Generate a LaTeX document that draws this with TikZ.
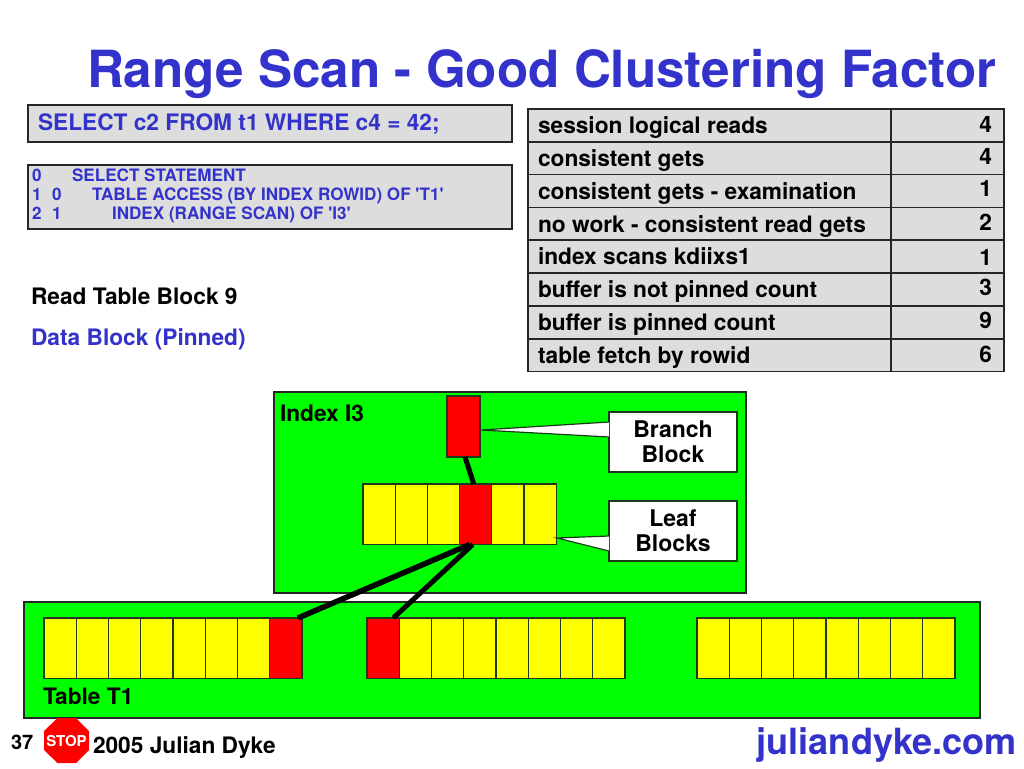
\documentclass[tikz,border=0pt]{standalone}
\usepackage{fontspec}
\setmainfont{TeX Gyre Heros}
\definecolor{tblue}{HTML}{3333CC}
\definecolor{pgrey}{HTML}{DDDDDD}
\definecolor{gr}{HTML}{00FF00}
\definecolor{yl}{HTML}{FFFF00}
\definecolor{rd}{HTML}{FF0000}
\definecolor{ln}{HTML}{1A3A1A}
\tikzset{
 x=1pt,y=-1pt,
 panel/.style={draw=black!85,line width=1.3pt,fill=pgrey},
 area/.style={draw=black!85,line width=1.3pt,fill=gr},
 yb/.style={draw=ln,line width=1.2pt,fill=yl,minimum width=32.25pt,minimum height=60.5pt,inner sep=0pt,outer sep=0pt,anchor=north west},
 rb/.style={yb,fill=rd},
 call/.style={draw=ln,line width=1.2pt,fill=white,minimum width=128pt,minimum height=60pt,inner sep=0pt,outer sep=0pt,anchor=north west,align=center,font=\fontsize{23}{25}\selectfont\bfseries},
 txt/.style={inner sep=0pt,outer sep=0pt,anchor=base west,font=\fontsize{22.7}{24}\selectfont\bfseries},
 cell/.style={draw=black!85,line width=1.3pt,fill=pgrey},
 wire/.style={draw=black,line width=5pt},
}
\begin{document}
\begin{tikzpicture}
\useasboundingbox (0,0) rectangle (1024,768);
\fill[white] (0,0) rectangle (1024,768);
\node[txt,text=tblue,font=\fontsize{51.2}{52}\selectfont\bfseries] (title) at (87,87) {Range Scan - Good Clustering Factor};
% SQL
\draw[panel] (28,105) rectangle (512,142);
\node[txt,text=tblue,font=\fontsize{22.7}{24}\selectfont\bfseries] (sql) at (38,130) {SELECT c2 FROM t1 WHERE c4 = 42;};
\draw[panel] (28,165) rectangle (512,229);
\tikzset{pl/.style={txt,text=tblue,font=\fontsize{17.1}{19}\selectfont\bfseries}}
\node[pl] (p0) at (32,181) {0};
\node[pl] (p0b) at (72,181) {SELECT STATEMENT};
\node[pl] (p1) at (32,200) {1};
\node[pl] (p1a) at (52,200) {0};
\node[pl] (p1b) at (92,200) {TABLE ACCESS (BY INDEX ROWID) OF \textquotesingle T1\textquotesingle};
\node[pl] (p2) at (32,219) {2};
\node[pl] (p2a) at (52,219) {1};
\node[pl] (p2b) at (112,219) {INDEX (RANGE SCAN) OF \textquotesingle I3\textquotesingle};
% stats
\foreach \ya/\yb/\lab/\val/\ty/\vy in {109/142/session logical reads/4/133/132, 142/174.5/consistent gets/4/166/164, 174.5/207.5/consistent gets - examination/1/199/196, 207.5/240/no work - consistent read gets/2/232/230, 240/273/index scans kdiixs1/1/264/265, 273/306/buffer is not pinned count/3/297/295, 306/339/buffer is pinned count/9/330/328, 339/371.5/table fetch by rowid/6/363/362}{
 \draw[cell] (528,\ya) rectangle (891,\yb);
 \draw[cell] (891,\ya) rectangle (1004,\yb);
 \node[txt] at (538,\ty) {\lab};
 \node[txt,anchor=base east] at (992,\vy) {\val};
}
\node[txt] (rt) at (31,304) {Read Table Block 9};
\node[txt,text=tblue] (db) at (31,345) {Data Block (Pinned)};
% index
\draw[area] (274,392) rectangle (746,593);
\node[txt] (idx) at (280,421) {Index I3};
% table
\draw[area] (24,602) rectangle (980,718);
\node[txt] (tb) at (43,704) {Table T1};
% blocks
\node[rb,minimum width=33pt,minimum height=61pt] (br) at (447,396) {};
\foreach \i/\s in {0/yb,1/yb,2/yb,3/rb,4/yb,5/yb}
  \node[\s] (l\i) at ({363+\i*32.2},484) {};
\foreach \i/\s in {0/yb,1/yb,2/yb,3/yb,4/yb,5/yb,6/yb,7/rb}
  \node[\s] (a\i) at ({44+\i*32.25},618) {};
\foreach \i/\s in {0/rb,1/yb,2/yb,3/yb,4/yb,5/yb,6/yb,7/yb}
  \node[\s] (b\i) at ({367+\i*32.25},618) {};
\foreach \i in {0,...,7}
  \node[yb] (c\i) at ({697+\i*32.25},618) {};
% wires
\draw[wire] ([xshift=1.5pt]br.south) -- ([xshift=-2pt]l3.north);
\draw[wire,line width=5.5pt] ([xshift=-6pt]l3.south) -- ([xshift=-4pt]a7.north east);
\draw[wire] ([xshift=-3pt]l3.south) -- ([xshift=-6pt]b0.north east);
% callouts
\node[call] (cb) at (609,412) {Branch\\Block};
\node[call] (cl) at (609,501) {Leaf\\Blocks};
\coordinate (tb1) at (609,422);
\coordinate (tb2) at (609,437);
\coordinate (tl1) at (609,536);
\coordinate (tl2) at (609,551);
\coordinate (pb) at (481,430);
\coordinate (pl) at (557,538);
\fill[white] (tb1) -- (pb) -- (tb2) -- cycle;
\draw[ln,line width=1.2pt] (tb1) -- (pb) -- (tb2);
\fill[white] (tl1) -- (pl) -- (tl2) -- cycle;
\draw[ln,line width=1.2pt] (tl1) -- (pl) -- (tl2);
% footer
\node[txt,font=\fontsize{20}{22}\selectfont\bfseries] (pg) at (11,749) {37};
\fill[rd] (57.5,718) -- (76,718) -- (89,731) -- (89,750) -- (76,763) -- (57.5,763) -- (44,750) -- (44,731) -- cycle;
\node[inner sep=0pt,text=white,font=\fontsize{15}{16}\selectfont\bfseries] (st) at (66.5,741) {STOP};
\node[txt] (cr) at (93,753) {2005 Julian Dyke};
\node[txt,text=tblue,anchor=base east,font=\fontsize{36.1}{38}\selectfont\bfseries] (web) at (1017,754) {juliandyke.com};
\end{tikzpicture}
\end{document}
